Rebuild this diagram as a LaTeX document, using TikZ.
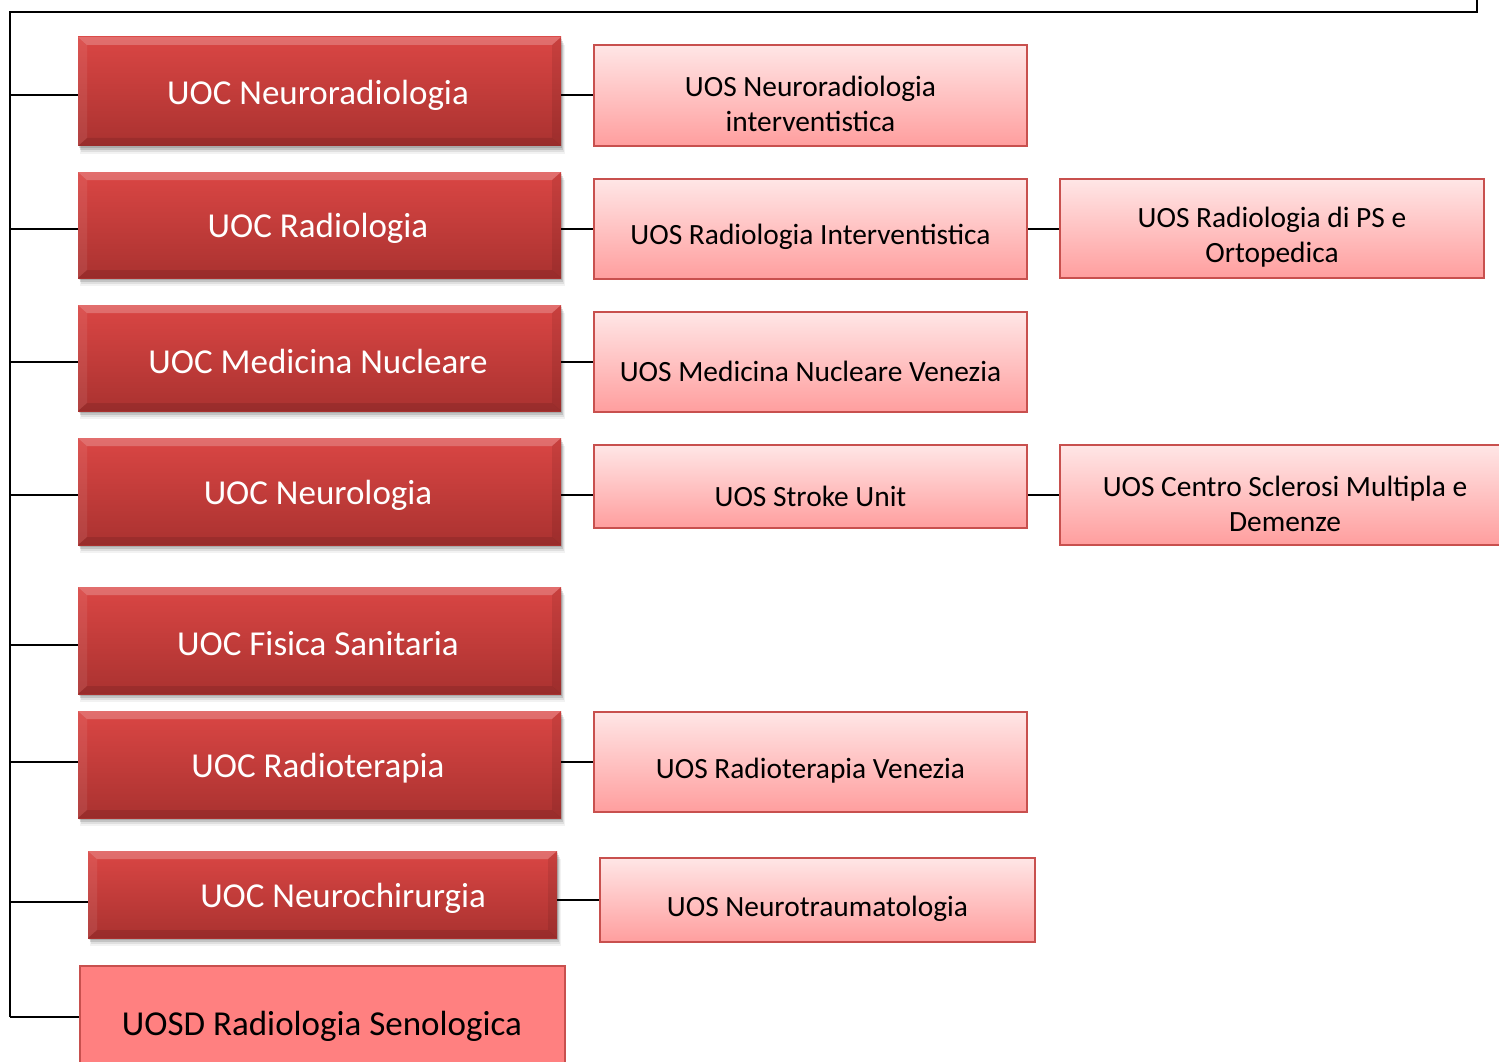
\documentclass[tikz,border=0pt]{standalone}
\usepackage{fontspec}
\setmainfont{Carlito}
\usetikzlibrary{shadows}
\definecolor{uocTop}{RGB}{218,70,68}
\definecolor{uocBot}{RGB}{170,50,48}
\definecolor{uosTop}{RGB}{255,230,230}
\definecolor{uosBot}{RGB}{255,158,158}
\definecolor{uosLine}{RGB}{200,80,78}
\definecolor{uosdFill}{RGB}{255,128,128}
\tikzset{
  conn/.style={draw=black, line width=2pt},
  uoc/.style={rectangle, inner sep=0pt, top color=uocTop, bottom color=uocBot,
    drop shadow={shadow xshift=1pt, shadow yshift=-2pt, fill=black, opacity=.12},
    drop shadow={shadow xshift=2pt, shadow yshift=-4pt, fill=black, opacity=.12},
    drop shadow={shadow xshift=3pt, shadow yshift=-6pt, fill=black, opacity=.08},
    drop shadow={shadow xshift=3pt, shadow yshift=-8pt, shadow scale=1.005, fill=black, opacity=.05},
    path picture={
      \fill[white, opacity=.22] (path picture bounding box.north west) -- (path picture bounding box.north east)
        -- ([xshift=-9pt,yshift=-8pt]path picture bounding box.north east) -- ([xshift=9pt,yshift=-8pt]path picture bounding box.north west) -- cycle;
      \fill[black, opacity=.10] (path picture bounding box.south west) -- (path picture bounding box.south east)
        -- ([xshift=-9pt,yshift=8pt]path picture bounding box.south east) -- ([xshift=9pt,yshift=8pt]path picture bounding box.south west) -- cycle;
      \fill[white, opacity=.08] (path picture bounding box.north west) -- ([xshift=9pt,yshift=-8pt]path picture bounding box.north west)
        -- ([xshift=9pt,yshift=8pt]path picture bounding box.south west) -- (path picture bounding box.south west) -- cycle;
      \fill[black, opacity=.08] (path picture bounding box.north east) -- ([xshift=-9pt,yshift=-8pt]path picture bounding box.north east)
        -- ([xshift=-9pt,yshift=8pt]path picture bounding box.south east) -- (path picture bounding box.south east) -- cycle;
    }},
  uoctxt/.style={text=white, font=\fontsize{35}{41}\selectfont},
  uos/.style={rectangle, inner sep=0pt, draw=uosLine, line width=2.2pt, top color=uosTop, bottom color=uosBot},
  uostxt/.style={text=black, align=center, font=\fontsize{29.4}{35}\selectfont},
  uosd/.style={rectangle, inner sep=0pt, draw=uosLine, line width=2.2pt, fill=uosdFill},
}
\begin{document}
\begin{tikzpicture}[x=1pt, y=-1pt]
\clip (0,0) rectangle (1499,1062);
\fill[white] (0,0) rectangle (1499,1062);

% frame coordinates
\coordinate (te) at (1477,-5);
\coordinate (tr) at (1477,12);
\coordinate (tl) at (10,12);
\coordinate (bl) at (10,1017);
\coordinate (r5) at (10,645);
\coordinate (r7) at (10,902);

% UOC boxes
\node (u1) [uoc, minimum width=483pt, minimum height=109pt] at (319.5,91.5) {};
\node (u2) [uoc, minimum width=483pt, minimum height=106pt] at (319.5,225) {};
\node (u3) [uoc, minimum width=483pt, minimum height=106pt] at (319.5,358) {};
\node (u4) [uoc, minimum width=483pt, minimum height=107pt] at (319.5,491.5) {};
\node (u5) [uoc, minimum width=483pt, minimum height=107pt] at (319.5,640.5) {};
\node (u6) [uoc, minimum width=483pt, minimum height=107pt] at (319.5,764.5) {};
\node (u7) [uoc, minimum width=469pt, minimum height=87pt] at (322.5,894.5) {};
\node (u8) [uosd, minimum width=485pt, minimum height=120pt] at (322.5,1026) {};

% UOS boxes
\node (s1) [uos, minimum width=433pt, minimum height=101pt] at (810.5,95.5) {};
\node (s2) [uos, minimum width=433pt, minimum height=100pt] at (810.5,229) {};
\node (s3) [uos, minimum width=433pt, minimum height=100pt] at (810.5,362) {};
\node (s4) [uos, minimum width=433pt, minimum height=83pt] at (810.5,486.5) {};
\node (s5) [uos, minimum width=433pt, minimum height=100pt] at (810.5,762) {};
\node (s6) [uos, minimum width=435pt, minimum height=84pt] at (817.5,900) {};
\node (q1) [uos, minimum width=424pt, minimum height=99pt] at (1272,228.5) {};
\node (q2) [uos, minimum width=450pt, minimum height=100pt] at (1285,495) {};

% connectors
\draw[conn] (te) -- (tr) -- (tl) -- (bl);
\draw[conn] (tl |- s1.west) -- (u1.west |- s1.west);
\draw[conn] (u1.east |- s1.west) -- (s1.west);
\draw[conn] (tl |- s2.west) -- (u2.west |- s2.west);
\draw[conn] (u2.east |- s2.west) -- (s2.west);
\draw[conn] (s2.east) -- (q1.west |- s2.east);
\draw[conn] (tl |- s3.west) -- (u3.west |- s3.west);
\draw[conn] (u3.east |- s3.west) -- (s3.west);
\draw[conn] (tl |- q2.west) -- (u4.west |- q2.west);
\draw[conn] (u4.east |- q2.west) -- (s4.west |- q2.west);
\draw[conn] (s4.east |- q2.west) -- (q2.west);
\draw[conn] (r5) -- (u5.west |- r5);
\draw[conn] (tl |- s5.west) -- (u6.west |- s5.west);
\draw[conn] (u6.east |- s5.west) -- (s5.west);
\draw[conn] (r7) -- (u7.west |- r7);
\draw[conn] (u7.east |- s6.west) -- (s6.west);
\draw[conn] (bl) -- (u8.west |- bl);

% texts
\node (t1) [uoctxt] at (318,95) {UOC Neuroradiologia};
\node (t2) [uoctxt] at (318,228) {UOC Radiologia};
\node (t3) [uoctxt] at (318,361) {UOC Medicina Nucleare};
\node (t4) [uoctxt] at (318,495) {UOC Neurologia};
\node (t5) [uoctxt] at (318,644) {UOC Fisica Sanitaria};
\node (t6) [uoctxt] at (318,768) {UOC Radioterapia};
\node (t7) [uoctxt] at (343,898) {UOC Neurochirurgia};
\node (t8) [text=black, font=\fontsize{35}{40}\selectfont] at (322,1026) {UOSD Radiologia Senologica};

\node (v1) [uostxt] at (810.5,104) {UOS Neuroradiologia\\interventistica};
\node (v2) [uostxt] at (810.5,237) {UOS Radiologia Interventistica};
\node (v3) [uostxt] at (810.5,371) {UOS Medicina Nucleare Venezia};
\node (v4) [uostxt] at (810.5,496) {UOS Stroke Unit};
\node (v5) [uostxt] at (810.5,771) {UOS Radioterapia Venezia};
\node (v6) [uostxt] at (817.5,909) {UOS Neurotraumatologia};
\node (w1) [uostxt] at (1272,237.5) {UOS Radiologia di PS e\\Ortopedica};
\node (w2) [uostxt] at (1285,503.5) {UOS Centro Sclerosi Multipla e\\Demenze};
\end{tikzpicture}
\end{document}
